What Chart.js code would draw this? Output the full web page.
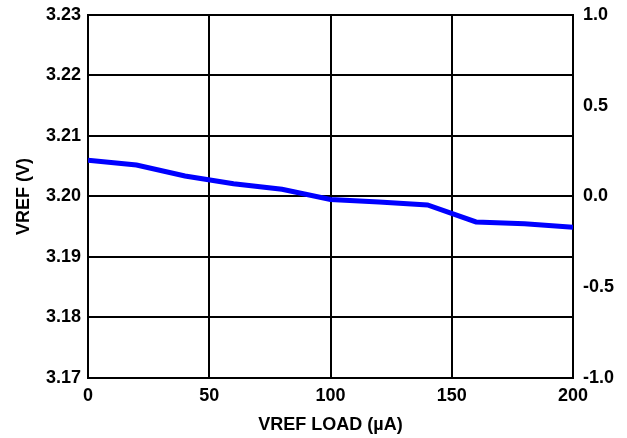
<!DOCTYPE html>
<html><head><meta charset="utf-8">
<script src="https://cdn.jsdelivr.net/npm/chart.js@4"></script>
<style>html,body{margin:0;padding:0;background:#fff}#wrap{width:627px;height:438px}</style>
</head><body><div id="wrap"><canvas id="c" width="627" height="438"></canvas></div>
<script>
const loadUA = [0, 20, 40, 60, 80, 100, 120, 140, 160, 180, 200];
const vref = [3.2060, 3.2052, 3.2034, 3.2021, 3.2012, 3.1995, 3.1991, 3.1986, 3.1958, 3.1955, 3.1949];
const xTicks = [0, 50, 100, 150, 200];
const leftTicks = [3.17, 3.18, 3.19, 3.20, 3.21, 3.22, 3.23];
const rightTicks = [-1.0, -0.5, 0.0, 0.5, 1.0];

const font = {family: '"Liberation Sans", Arial, sans-serif', size: 18, weight: 'bold'};
new Chart(document.getElementById('c'), {
  type: 'line',
  data: {datasets: [{
    data: loadUA.map((x, i) => ({x, y: vref[i]})),
    borderColor: '#0000ff', borderWidth: 5, pointRadius: 0, tension: 0, yAxisID: 'y'
  }]},
  options: {
    responsive: false, animation: false,
    layout: {padding: {top: 15, left: 0, right: 0, bottom: 0}},
    plugins: {legend: {display: false}, tooltip: {enabled: false}},
    scales: {
      x: {type: 'linear', min: 0, max: 200,
        afterBuildTicks: a => { a.ticks = xTicks.map(v => ({value: v})); },
        afterFit: a => { a.height = 60; a.paddingLeft = 0; a.paddingRight = 0; },
        grid: {color: '#000', lineWidth: 2, drawTicks: false},
        border: {color: '#000', width: 2},
        ticks: {color: '#000', font, padding: 7, maxRotation: 0},
        title: {display: true, text: 'VREF LOAD (µA)', color: '#000', font, padding: {top: 0, bottom: 2}}
      },
      y: {position: 'left', min: 3.17, max: 3.23,
        afterBuildTicks: a => { a.ticks = leftTicks.map(v => ({value: v})); },
        afterFit: a => { a.width = 88; a.paddingTop = 0; a.paddingBottom = 0; },
        grid: {color: '#000', lineWidth: 2, drawTicks: false},
        border: {color: '#000', width: 2},
        ticks: {color: '#000', font, padding: 7, callback: v => v.toFixed(2)},
        title: {display: true, text: 'VREF (V)', color: '#000', font, padding: {top: 13, bottom: 0}}
      },
      y2: {position: 'right', min: -1, max: 1,
        afterBuildTicks: a => { a.ticks = rightTicks.map(v => ({value: v})); },
        afterFit: a => { a.width = 54; a.paddingTop = 0; a.paddingBottom = 0; },
        grid: {display: false, drawTicks: false},
        border: {color: '#000', width: 2},
        ticks: {color: '#000', font, padding: 10, callback: v => v.toFixed(1)}
      }
    }
  }
});
</script></body></html>
